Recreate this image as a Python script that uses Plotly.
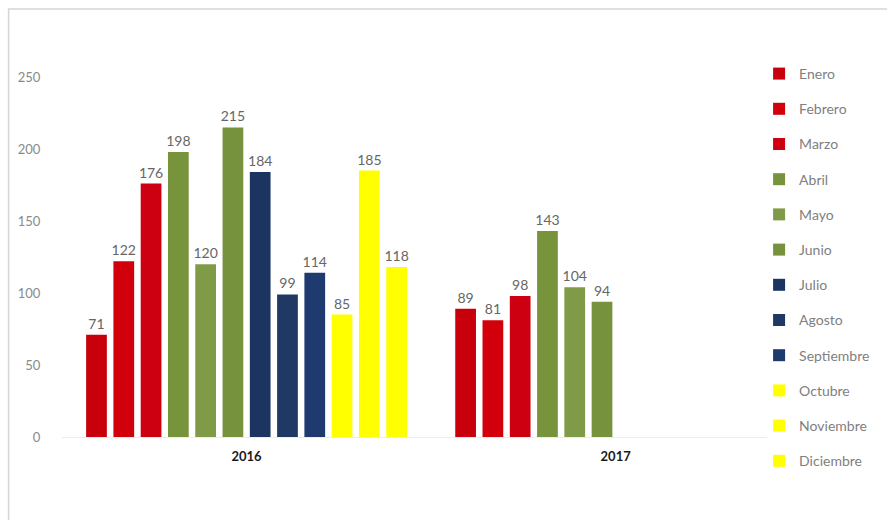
import plotly.graph_objects as go

# Monthly counts per year
years = ["<b>2016</b>", "<b>2017</b>"]
months = ["Enero", "Febrero", "Marzo", "Abril", "Mayo", "Junio",
          "Julio", "Agosto", "Septiembre", "Octubre", "Noviembre", "Diciembre"]
values_2016 = [71, 122, 176, 198, 120, 215, 184, 99, 114, 85, 185, 118]
values_2017 = [89, 81, 98, 143, 104, 94, None, None, None, None, None, None]
colors = ["#C8000C", "#D2000A", "#CC0010",
          "#77933C", "#7F9B47", "#76923C",
          "#1B3560", "#1F3864", "#1F3A6E",
          "#FFFF00", "#FFFF00", "#FFFF00"]
y_ticks = [0, 50, 100, 150, 200, 250]

W, H = 887, 520
L, R, T, B = 62, 112, 77, 83
FONT = "Lato, Carlito, sans-serif"

fig = go.Figure()
x_pos = [0, 1]
for i, m in enumerate(months):
    vals = [values_2016[i], values_2017[i]]
    fig.add_trace(go.Bar(
        x=x_pos, y=vals, name=m, legendgroup=m,
        marker=dict(color=colors[i], line=dict(width=0)),
        text=[("" if v is None else str(v)) for v in vals],
        textposition="outside",
        constraintext="none",
        textfont=dict(family=FONT, size=14, color="#666666"),
        cliponaxis=False,
    ))

pw = W - L - R
ph = H - T - B

def px_x(p):
    return (p - L) / pw

def px_y(p):
    return (H - B - p) / ph

fig.update_layout(
    width=W, height=H,
    margin=dict(l=L, r=R, t=T, b=B, pad=0),
    paper_bgcolor="white", plot_bgcolor="white",
    barmode="group", bargap=0.113, bargroupgap=0.24,
    font=dict(family=FONT, color="#7f7f7f"),
    showlegend=True,
    legend=dict(
        x=px_x(767), y=px_y(58), xanchor="left", yanchor="top",
        traceorder="grouped", tracegroupgap=14.0,
        font=dict(size=14, color="#808080"),
        itemwidth=30, bgcolor="rgba(0,0,0,0)",
        maxheight=500,
    ),
    xaxis=dict(
        range=[-0.5, 1.41], tickmode="array", tickvals=x_pos, ticktext=years,
        tickfont=dict(size=13, color="#1a1a1a", family=FONT),
        showgrid=False, zeroline=False, showline=True, linecolor="#ececec",
        ticks="outside", ticklen=7, tickcolor="rgba(0,0,0,0)",
        fixedrange=True,
    ),
    yaxis=dict(
        range=[0, 250], tickvals=y_ticks,
        tickfont=dict(size=13, color="#8a8a8a"),
        showgrid=False, zeroline=False, showline=False,
        ticks="outside", ticklen=18, tickcolor="rgba(0,0,0,0)",
        fixedrange=True,
    ),
    shapes=[dict(
        type="rect", xref="paper", yref="paper",
        x0=px_x(8), x1=px_x(W + 20), y0=px_y(H + 20), y1=px_y(9),
        line=dict(color="#d6d6d6", width=1.5), fillcolor="rgba(0,0,0,0)",
        layer="below",
    )],
)

fig.write_html("out.html")
